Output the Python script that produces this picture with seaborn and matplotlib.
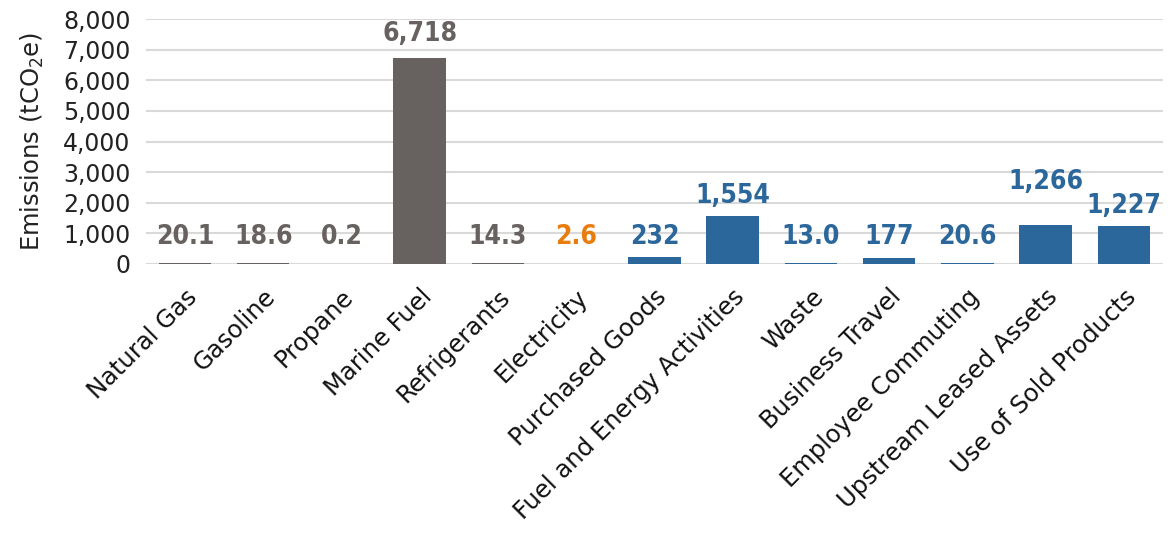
import matplotlib
matplotlib.use("Agg")
import matplotlib.pyplot as plt
import seaborn as sns
import pandas as pd

categories = ["Natural Gas", "Gasoline", "Propane", "Marine Fuel", "Refrigerants",
              "Electricity", "Purchased Goods", "Fuel and Energy Activities", "Waste",
              "Business Travel", "Employee Commuting", "Upstream Leased Assets",
              "Use of Sold Products"]
values = [20.1, 18.6, 0.2, 6718, 14.3, 2.6, 232, 1554, 13.0, 177, 20.6, 1266, 1227]
value_labels = ["20.1", "18.6", "0.2", "6,718", "14.3", "2.6", "232", "1,554", "13.0",
                "177", "20.6", "1,266", "1,227"]
scopes = ["Scope 1"] * 5 + ["Scope 2"] + ["Scope 3"] * 7
yticks = [0, 1000, 2000, 3000, 4000, 5000, 6000, 7000, 8000]

scope_colors = {"Scope 1": "#676160", "Scope 2": "#E87D0E", "Scope 3": "#2B679B"}

df = pd.DataFrame({"category": categories, "value": values, "scope": scopes})

sns.set_theme(style="white")
plt.rcParams["font.family"] = ["DejaVu Sans"]

fig = plt.figure(figsize=(11.76, 5.33), dpi=100)
ax = fig.add_axes([0.124, 0.505, 0.865, 0.459])

sns.barplot(data=df, x="category", y="value", hue="scope", palette=scope_colors,
            dodge=False, width=0.67, legend=False, ax=ax, zorder=3,
            saturation=1, linewidth=0)

ax.set_ylim(0, 8000)
ax.set_yticks(yticks)
ax.set_yticklabels([f"{t:,}" for t in yticks], fontsize=17, color="#222222")
ax.yaxis.grid(True, color="#D9D9D9", linewidth=1.5, zorder=0)
ax.set_axisbelow(True)
for s in ax.spines.values():
    s.set_visible(False)
ax.tick_params(axis="y", length=0, pad=11)
ax.tick_params(axis="x", length=0, pad=15)
ax.set_xlim(-0.5, len(categories) - 0.5)

ax.set_xticks(range(len(categories)))
ax.set_xticklabels(categories, rotation=45, ha="right", rotation_mode="anchor",
                   fontsize=17.5, color="#111111")
ax.set_xlabel("")
ax.set_ylabel("Emissions (tCO$_2$e)", fontsize=17.5, color="#222222", labelpad=12)

extra_lift = {"6,718": 3, "1,266": 17}
for i, (v, lab, sc) in enumerate(zip(values, value_labels, scopes)):
    ax.annotate(lab, xy=(i, max(v, 232)), xytext=(0, 5 + extra_lift.get(lab, 0)),
                textcoords="offset points", ha="center", va="bottom",
                fontsize=19, fontweight="bold", fontstretch="condensed",
                color=scope_colors[sc], family=["DejaVu Sans"])

fig.savefig("out.png", dpi=100)
